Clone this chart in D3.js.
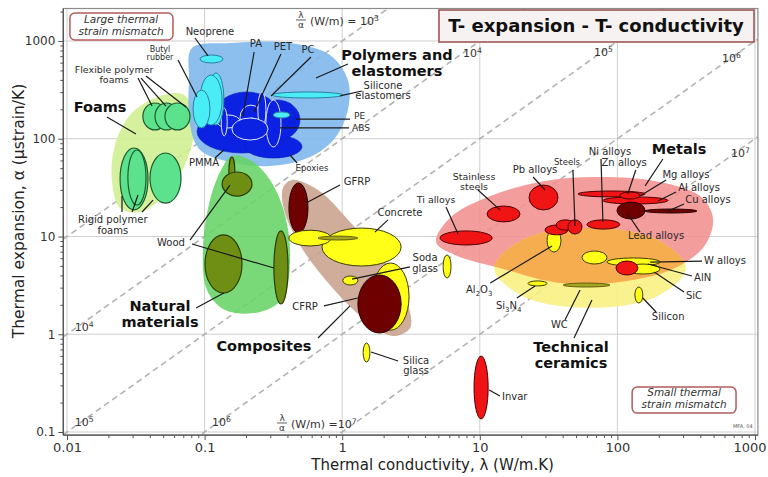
<!DOCTYPE html>
<html><head><meta charset="utf-8">
<script src="https://cdn.jsdelivr.net/npm/d3@7"></script>
<style>body{margin:0;background:#fff}svg{display:block}text{font-family:"DejaVu Sans",sans-serif}</style>
</head><body><svg id="c" width="768" height="477"></svg>
<script>
// ---------- data ----------
const xTickValues=[0.01,0.1,1,10,100,1000];
const xTickLabels=["0.01","0.1","1","10","100","1000"];
const yTickValues=[0.1,1,10,100,1000];
const yTickLabels=["0.1","1","10","100","1000"];
const xExtent=[0.0094,1050];
const yExtent=[0.093,2150];
const guideRatios=[1e3,1e4,1e5,1e6,1e7];               // lambda/alpha (W/m)
const guideLabels=[["10^4",7.55,686],["10^5",67.6,703],["10^6",575,610],["10^7",670,65],
  ["10^4",0.0114,1.08],["10^5",0.0114,0.115],["10^6",0.113,0.115]];
const ratioLabels=[{lam:0.583,a:1459,text:"(W/m) = 10^3"},{lam:0.425,a:0.110,text:"(W/m) =10^7"}];

// envelopes: [lambda, alpha] outline points
const foamsEnvelope=[[0.0685,287],[0.0837,197],[0.0824,97],[0.0662,42.6],[0.0474,23.6],[0.0339,17.8],[0.0243,19.6],[0.0212,37.9],[0.0223,86.3],[0.0287,175],[0.0436,261]];
const polymerEnvelope=[[0.081,848],[0.153,954],[0.418,954],[0.815,719],[1.10,399],[1.10,197],[0.887,102],[0.583,65],[0.299,52.6],[0.153,57.8],[0.0926,76.7],[0.0783,138],[0.077,399]];
const naturalEnvelope=[[0.158,66.6],[0.214,60.6],[0.299,37.9],[0.384,16.6],[0.418,5.75],[0.371,2.35],[0.253,1.69],[0.141,1.77],[0.104,2.84],[0.0973,7.3],[0.1094,23.6],[0.134,50.2]];
const compositeEnvelope=[[0.432,37.9],[0.667,29.9],[1.14,14.1],[2.05,5.48],[3.01,1.99],[3.11,1.16],[2.34,0.96],[1.47,1.40],[0.815,3.19],[0.493,8.19],[0.378,18.7],[0.371,31.4]];
const metalEnvelope=[[4.81,8.79],[6.07,15.5],[11.9,25.9],[29.8,37.0],[74.8,40.6],[204,36.1],[398,25.9],[495,15.5],[434,8.19],[262,4.76],[104,3.43],[38.3,3.34],[14.0,4.76],[6.61,6.47]];
const ceramicEnvelope=[[315,4.76],[197,2.46],[63.2,1.86],[20.3,2.46],[12.7,4.76],[20.3,9.2],[63.2,12.2],[197,9.2]];

// bubbles: name, lambda range, alpha range, kind
const foamBubbles=[
 {n:"Flexible foam 1",lam:[0.0356,0.0533],a:[123,232],k:"foam"},
 {n:"Flexible foam 2",lam:[0.0436,0.0641],a:[123,232],k:"foam"},
 {n:"Flexible foam 3",lam:[0.0515,0.0783],a:[123,232],k:"foam"},
 {n:"Rigid foam 1",lam:[0.0243,0.0388],a:[18.7,80.4],k:"foam"},
 {n:"Rigid foam 2",lam:[0.0277,0.0375],a:[21,76.7],k:"foam"},
 {n:"Rigid foam 3",lam:[0.0401,0.0674],a:[22,71.5],k:"foam"}];
const polymerBubbles=[
 {n:"Polymer 1",lam:[0.0881,0.397],a:[71.5,197],k:"blue"},
 {n:"Polymer 2",lam:[0.119,0.341],a:[104,301],k:"blue"},
 {n:"Epoxies",lam:[0.197,0.510],a:[63.5,109],k:"blue"},
 {n:"PET/PC",lam:[0.232,0.493],a:[97,249],k:"blue"},
 {n:"PMMA",lam:[0.123,0.181],a:[129,175],k:"blueW"},
 {n:"PS",lam:[0.132,0.146],a:[107,206],k:"blueW"},
 {n:"PA",lam:[0.181,0.261],a:[123,221],k:"blueW"},
 {n:"PP",lam:[0.2,0.244],a:[120,163],k:"blueW"},
 {n:"PC",lam:[0.244,0.279],a:[129,301],k:"blueW"},
 {n:"PET",lam:[0.279,0.359],a:[82.4,249],k:"blueW"},
 {n:"ABS",lam:[0.158,0.289],a:[97,163],k:"blueW"},
 {n:"Butyl c",lam:[0.106,0.138],a:[138,471],k:"cyan"},
 {n:"Butyl b",lam:[0.0926,0.134],a:[138,449],k:"cyan"},
 {n:"Butyl a",lam:[0.0824,0.1094],a:[129,315],k:"cyan"},
 {n:"Neoprene",lam:[0.0926,0.136],a:[596,719],k:"cyan"},
 {n:"Silicone",lam:[0.309,1.01],a:[261,301],k:"cyan"},
 {n:"PE cyan",lam:[0.315,0.418],a:[163,188],k:"cyan"},
 {n:"PE",lam:[0.418,0.461],a:[145,188],k:"blue"}];
const naturalBubbles=[
 {n:"Wood 1",lam:[0.150,0.166],a:[29.9,65],k:"wood"},
 {n:"Wood 2",lam:[0.134,0.221],a:[25.9,45.7],k:"wood"},
 {n:"Wood 3",lam:[0.1007,0.187],a:[2.64,10.4],k:"wood"},
 {n:"Wood 4",lam:[0.319,0.404],a:[2.04,11.4],k:"wood"}];
const compositeBubbles=[
 {n:"GFRP",lam:[0.410,0.564],a:[10.9,35.3],k:"dred"},
 {n:"Glass",lam:[1.65,3.06],a:[1.10,5.36],k:"yel"},
 {n:"Concrete",lam:[0.713,2.68],a:[4.99,12.2],k:"yel"},
 {n:"Stone",lam:[0.410,0.830],a:[8.0,11.6],k:"yel"},
 {n:"Brick",lam:[0.667,1.30],a:[9.2,10.1],k:"olive"},
 {n:"Glass 2",lam:[1.01,1.30],a:[3.19,3.94],k:"yel"},
 {n:"CFRP",lam:[1.30,2.68],a:[1.03,4.04],k:"dred"},
 {n:"Soda glass",lam:[5.41,6.18],a:[3.76,6.47],k:"yel"},
 {n:"Silica glass",lam:[1.42,1.59],a:[0.520,0.813],k:"yel"}];
const ceramicBubbles=[
 {n:"Al2O3",lam:[30.8,38.9],a:[6.94,11.9],k:"yel"},
 {n:"Si3N4",lam:[22.4,30.8],a:[3.12,3.51],k:"yel"},
 {n:"WC",lam:[40.3,88.3],a:[3.04,3.34],k:"olive"},
 {n:"B4C",lam:[55.3,84],a:[5.23,7.11],k:"yel"},
 {n:"AlN",lam:[84,204],a:[4.99,6.03],k:"yel"},
 {n:"SiC",lam:[116,204],a:[4.13,5.23],k:"yel"},
 {n:"W alloys",lam:[97.7,141],a:[4.04,5.61],k:"red"},
 {n:"Silicon",lam:[134,153],a:[2.09,3.04],k:"yel"}];
const metalBubbles=[
 {n:"Ti alloys",lam:[5.14,12.3],a:[8.19,11.4],k:"red"},
 {n:"Stainless steels",lam:[11.3,19.6],a:[14.1,20.5],k:"red"},
 {n:"Pb alloys",lam:[22.8,37.0],a:[18.7,33.6],k:"red"},
 {n:"Steels 1",lam:[29.8,43.7],a:[10.4,13.1],k:"red"},
 {n:"Steels 2",lam:[35.8,49.2],a:[11.6,14.8],k:"red"},
 {n:"Steels 3",lam:[43.7,55.3],a:[10.6,14.8],k:"red"},
 {n:"Ni alloys",lam:[60.1,104],a:[11.9,14.8],k:"red"},
 {n:"Mg alloys",lam:[51.7,159],a:[25.4,29.2],k:"red"},
 {n:"Al alloys",lam:[78.5,233],a:[21.5,25.4],k:"red"},
 {n:"Zn alloys",lam:[104,146],a:[24.2,28.5],k:"red"},
 {n:"Lead alloys",lam:[99.3,159],a:[15.1,22.5],k:"dred"},
 {n:"Cu alloys",lam:[159,378],a:[17.4,19.1],k:"dred"},
 {n:"Invar",lam:[9.08,11.5],a:[0.136,0.598],k:"red"}];

// leader lines [lambda1, alpha1, lambda2, alpha2]
const leaders=[
 [0.0851,1073,0.106,703],[0.0641,640,0.0881,267],[0.0328,418,0.0415,216],[0.0345,418,0.0524,216],
 [0.0375,439,0.0732,211],[0.0195,167,0.0317,112],[0.0251,17.8,0.0251,25.9],[0.0297,17.8,0.0328,26.6],
 [0.0351,17.8,0.0422,23.6],[0.229,772,0.19,171],[0.359,737,0.229,188],[0.593,686,0.304,274],
 [1.10,582,0.645,418],[1.39,308,0.964,274],[1.14,159,0.461,159],[1.12,129,0.353,129],
 [0.470,56.5,0.418,68.2],[0.119,63.5,0.138,76.7],[0.0783,9.2,0.153,33.6],[0.081,8.38,0.319,4.76],
 [0.0866,1.86,0.138,2.64],[0.964,33.6,0.546,22],[2.15,14.8,1.73,11.1],[3.11,4.88,1.18,3.67],
 [0.738,1.95,1.30,2.35],[0.667,0.916,1.14,1.95],[1.62,0.658,2.55,0.532],[5.68,20,6.95,10.6],
 [9.7,29.9,14.0,18.7],[24.4,40.6,29.8,29.9],[47.5,47.9,49.2,12.8],[76,62,78.5,14.1],
 [136,47.9,119,27.2],[214,62,159,32.9],[226,37.9,146,25.9],[267,28.5,197,23.1],
 [305,21.5,233,18.2],[146,11.1,119,17.0],[14.0,0.234,11.7,0.269],[412,5.61,173,5.48],
 [348,3.94,167,5.23],[305,2.70,185,4.34],[191,1.69,153,2.35],[11.9,3.34,33.5,8.0],
 [18.6,2.35,25.2,3.12],[41.6,1.40,53.5,2.84],[48.4,0.916,65.3,2.24]];

// material labels [text, lambda, alpha, anchor]
const materialLabels=[
 ["Neoprene",0.1094,1152,"middle"],["Butyl\nrubber",0.0474,772,"middle"],
 ["Flexible polymer\nfoams",0.0220,471,"middle"],["Rigid polymer\nfoams",0.0215,13.7,"middle"],
 ["PA",0.236,868,"middle"],["PET",0.371,809,"middle"],["PC",0.564,754,"middle"],
 ["Silicone\nelastomers",1.98,324,"middle"],["PE",1.22,159,"start"],["ABS",1.18,120,"start"],
 ["Epoxies",0.603,46.8,"middle"],["PMMA",0.099,52.6,"middle"],["Wood",0.057,8.0,"middle"],
 ["GFRP",1.28,33.6,"middle"],["Concrete",2.63,16.2,"middle"],["Soda\nglass",4.0,5.61,"middle"],
 ["CFRP",0.537,1.77,"middle"],["Silica\nglass",3.44,0.497,"middle"],["Ti alloys",4.81,22,"middle"],
 ["Stainless\nsteels",9.08,37.9,"middle"],["Pb alloys",25.2,44.6,"middle"],["Steels",43.0,53.9,"middle"],
 ["Ni alloys",88.3,68.2,"middle"],["Zn alloys",112,52.6,"middle"],["Mg alloys",315,39.7,"middle"],
 ["Al alloys",392,29.2,"middle"],["Cu alloys",455,22,"middle"],["Lead alloys",191,9.43,"middle"],
 ["Invar",14.5,0.212,"start"],["W alloys",426,5.23,"start"],["AlN",361,3.51,"start"],
 ["SiC",315,2.30,"start"],["Silicon",178,1.40,"start"],["Al_2O_3",7.94,2.64,"start"],
 ["Si_3N_4",13.1,1.81,"start"],["WC",32.9,1.16,"start"]];
const groupLabels=[
 ["Foams",0.0174,188],["Polymers and\nelastomers",2.50,640],["Natural\nmaterials",0.0474,1.73],
 ["Composites",0.270,0.674],["Metals",281,69.8],["Technical\nceramics",46.0,0.658]];
const titleText="T- expansion - T- conductivity";
const titleBox={lam:[5.05,984],a:[977,2075],tl:69.9,ta:1236};
const noteBoxes=[
 {t:"Large thermal\nstrain mismatch",lam:[0.0105,0.0589],a:[1024,1934],tl:0.0247,ta:1520},
 {t:"Small thermal\nstrain mismatch",lam:[128,728],a:[0.156,0.288],tl:305,ta:0.232}];
const creditText=["MFA, 04",692,0.110];

// ---------- styles ----------
const kinds={
 foam:{f:"#5ce28d",s:"#1d5a2c",w:1.2}, cyan:{f:"#4aecf6",s:"#2a7fa0",w:1},
 blue:{f:"#0c22e2",s:"#0a1cb8",w:0.6}, blueW:{f:"#0c22e2",s:"#dfe6ff",w:1},
 wood:{f:"#6f8f14",s:"#2b3c00",w:1.2}, dred:{f:"#6e0000",s:"#2a0000",w:1},
 yel:{f:"#ffff18",s:"#3d3d00",w:1}, olive:{f:"#a4a422",s:"#4a4a00",w:0.8},
 red:{f:"#f01414",s:"#4a0000",w:1}};
const smallSize={"Butyl\nrubber":8,"Epoxies":8.5,"Steels":8.5,"PE":9,"ABS":9,"Flexible polymer\nfoams":9.5,"Stainless\nsteels":9.5,"Ti alloys":9.5};

// ---------- drawing ----------
const svg=d3.select("#c");
const x=d3.scaleLog().domain([0.01,1000]).range([67,755]);
const y=d3.scaleLog().domain([0.1,1000]).range([432,41]);
const X0=x(xExtent[0]),X1=x(xExtent[1]),Y0=y(yExtent[0]),Y1=y(yExtent[1]);

const defs=svg.append("defs");
defs.append("clipPath").attr("id","plot").append("rect").attr("x",X0).attr("y",Y1).attr("width",X1-X0).attr("height",Y0-Y1);
const outline=d3.line().x(d=>x(d[0])).y(d=>y(d[1])).curve(d3.curveCatmullRomClosed.alpha(0.5));
defs.append("clipPath").attr("id","metalClip").append("path").attr("d",outline(metalEnvelope));

function rich(sel,str){
  str.split(/([_^]\d+)/).forEach(p=>{
    if(!p) return;
    if(p[0]==="_") sel.append("tspan").attr("baseline-shift","-3").attr("font-size","70%").text(p.slice(1));
    else if(p[0]==="^") sel.append("tspan").attr("baseline-shift","super").attr("font-size","70%").text(p.slice(1));
    else sel.append("tspan").text(p);
  });
}
function multi(g,str,px,py,anchor,size,lh,attrs){
  const t=g.append("text").attr("x",px).attr("y",py).attr("text-anchor",anchor).attr("font-size",size);
  Object.entries(attrs||{}).forEach(([k,v])=>t.attr(k,v));
  str.split("\n").forEach((line,i)=>{
    const ts=t.append("tspan").attr("x",px).attr("y",py+i*lh);
    rich(ts,line);
  });
  return t;
}

const plot=svg.append("g").attr("clip-path","url(#plot)");
// grid
plot.selectAll(".gx").data(xTickValues).join("line").attr("x1",d=>x(d)).attr("x2",d=>x(d)).attr("y1",Y1).attr("y2",Y0).attr("stroke","#cfcfcf").attr("stroke-width",1);
plot.selectAll(".gy").data(yTickValues).join("line").attr("y1",d=>y(d)).attr("y2",d=>y(d)).attr("x1",X0).attr("x2",X1).attr("stroke","#cfcfcf").attr("stroke-width",1);
// guide lines
plot.selectAll(".guide").data(guideRatios).join("line")
 .attr("x1",x(xExtent[0])).attr("y1",d=>y(xExtent[0]*1e6/d))
 .attr("x2",x(xExtent[1])).attr("y2",d=>y(xExtent[1]*1e6/d))
 .attr("stroke","#b3b3b3").attr("stroke-width",1.6).attr("stroke-dasharray","6,4");

// envelopes
const envs=[[foamsEnvelope,"#cfef90"],[polymerEnvelope,"#7cb6ec"],[naturalEnvelope,"#66d466"],[compositeEnvelope,"#c9a08c"],[metalEnvelope,"#f39090"],[ceramicEnvelope,"#f8f080"]];
envs.forEach(([pts,c])=>plot.append("path").attr("d",outline(pts)).attr("fill",c).attr("fill-opacity",0.88));
plot.append("path").attr("d",outline(ceramicEnvelope)).attr("clip-path","url(#metalClip)").attr("fill","#f5a64a").attr("fill-opacity",0.9);

// bubbles
function bubbles(arr){
  plot.append("g").selectAll("ellipse").data(arr).join("ellipse")
   .attr("cx",d=>(x(d.lam[0])+x(d.lam[1]))/2).attr("cy",d=>(y(d.a[0])+y(d.a[1]))/2)
   .attr("rx",d=>(x(d.lam[1])-x(d.lam[0]))/2).attr("ry",d=>(y(d.a[0])-y(d.a[1]))/2)
   .attr("fill",d=>kinds[d.k].f).attr("stroke",d=>kinds[d.k].s).attr("stroke-width",d=>kinds[d.k].w);
}
[foamBubbles,polymerBubbles,naturalBubbles,compositeBubbles,ceramicBubbles,metalBubbles].forEach(bubbles);

// leaders
plot.append("g").selectAll("line").data(leaders).join("line")
 .attr("x1",d=>x(d[0])).attr("y1",d=>y(d[1])).attr("x2",d=>x(d[2])).attr("y2",d=>y(d[3]))
 .attr("stroke","#1a1a1a").attr("stroke-width",1.2);

// guide labels
const lab=svg.append("g");
guideLabels.forEach(d=>multi(lab,d[0],x(d[1]),y(d[2]),"start",11,0,{fill:"#333"}));
ratioLabels.forEach(d=>{
  const px=x(d.lam),py=y(d.a);
  lab.append("text").attr("x",px-9).attr("y",py-7).attr("text-anchor","middle").attr("font-size",9).attr("fill","#333").text("λ");
  lab.append("line").attr("x1",px-14).attr("x2",px-4).attr("y1",py-5).attr("y2",py-5).attr("stroke","#333").attr("stroke-width",0.8);
  lab.append("text").attr("x",px-9).attr("y",py+3).attr("text-anchor","middle").attr("font-size",9).attr("fill","#333").text("α");
  multi(lab,d.text,px,py,"start",11,0,{fill:"#333"});
});

// material labels
materialLabels.forEach(d=>{
  const s=smallSize[d[0]]||10;
  multi(lab,d[0],x(d[1]),y(d[2]),d[3],s,s+0.5,{fill:"#2a2a2a"});
});
groupLabels.forEach(d=>multi(lab,d[0],x(d[1]),y(d[2]),"middle",14.5,16,{"font-weight":"bold",fill:"#111"}));

// boxes
svg.append("rect").attr("x",x(titleBox.lam[0])).attr("y",y(titleBox.a[1])).attr("width",x(titleBox.lam[1])-x(titleBox.lam[0])).attr("height",y(titleBox.a[0])-y(titleBox.a[1]))
 .attr("fill","#f7f2f2").attr("stroke","#a05656").attr("stroke-width",1.6);
svg.append("text").attr("x",x(titleBox.tl)).attr("y",y(titleBox.ta)).attr("text-anchor","middle").attr("font-size",18).attr("font-weight","bold").attr("fill","#111").text(titleText);
noteBoxes.forEach(b=>{
  svg.append("rect").attr("x",x(b.lam[0])).attr("y",y(b.a[1])).attr("width",x(b.lam[1])-x(b.lam[0])).attr("height",y(b.a[0])-y(b.a[1]))
   .attr("rx",5).attr("fill","#fff").attr("stroke","#b35b5b").attr("stroke-width",1.5);
  multi(svg,b.t,x(b.tl),y(b.ta),"middle",10.5,12,{"font-style":"italic",fill:"#333"});
});
svg.append("text").attr("x",x(creditText[1])).attr("y",y(creditText[2])).attr("font-size",5).attr("fill","#555").text(creditText[0]);

// frame & axes
svg.append("rect").attr("x",X0).attr("y",Y1).attr("width",X1-X0).attr("height",Y0-Y1).attr("fill","none").attr("stroke","#8c8c8c").attr("stroke-width",1.2);
const minorX=[],minorY=[];
[0.01,0.1,1,10,100].forEach(d=>{for(let m=2;m<10;m++){minorX.push(d*m);}});
[0.1,1,10,100,1000].forEach(d=>{for(let m=2;m<10;m++){if(d*m<yExtent[1])minorY.push(d*m);}});
const gx=svg.append("g").attr("transform",`translate(0,${Y0})`);
gx.call(d3.axisBottom(x).tickValues(xTickValues).tickFormat((d,i)=>xTickLabels[i]).tickSize(5).tickPadding(3));
gx.append("g").call(d3.axisBottom(x).tickValues(minorX).tickFormat("").tickSize(3));
const gy=svg.append("g").attr("transform",`translate(${X0},0)`);
gy.call(d3.axisLeft(y).tickValues(yTickValues).tickFormat((d,i)=>yTickLabels[i]).tickSize(5).tickPadding(3));
gy.append("g").call(d3.axisLeft(y).tickValues(minorY).tickFormat("").tickSize(3));
svg.selectAll(".domain").remove();
svg.selectAll(".tick line").attr("stroke","#555");
gx.selectAll("text").attr("font-family","'Liberation Sans',Arial").attr("font-size",13).attr("fill","#333");
gx.selectAll(".tick text").filter(d=>d===xTickValues[xTickValues.length-1]).attr("text-anchor","end").attr("dx","11");
gy.selectAll("text").attr("font-family","'Liberation Sans',Arial").attr("font-size",12).attr("fill","#333");
svg.append("line").attr("x1",X0).attr("x2",X1).attr("y1",Y0).attr("y2",Y0).attr("stroke","#555").attr("stroke-width",1.3);
svg.append("line").attr("x1",X0).attr("x2",X0).attr("y1",Y1).attr("y2",Y0).attr("stroke","#555").attr("stroke-width",1.3);

// axis titles
svg.append("text").attr("x",(X0+X1)/2+22).attr("y",470).attr("text-anchor","middle").attr("font-size",15).attr("fill","#222").text("Thermal conductivity, λ  (W/m.K)");
svg.append("text").attr("transform","translate(24,211) rotate(-90)").attr("text-anchor","middle").attr("font-size",15.5).attr("fill","#222").text("Thermal expansion, α  (µstrain/K)");
</script></body></html>
